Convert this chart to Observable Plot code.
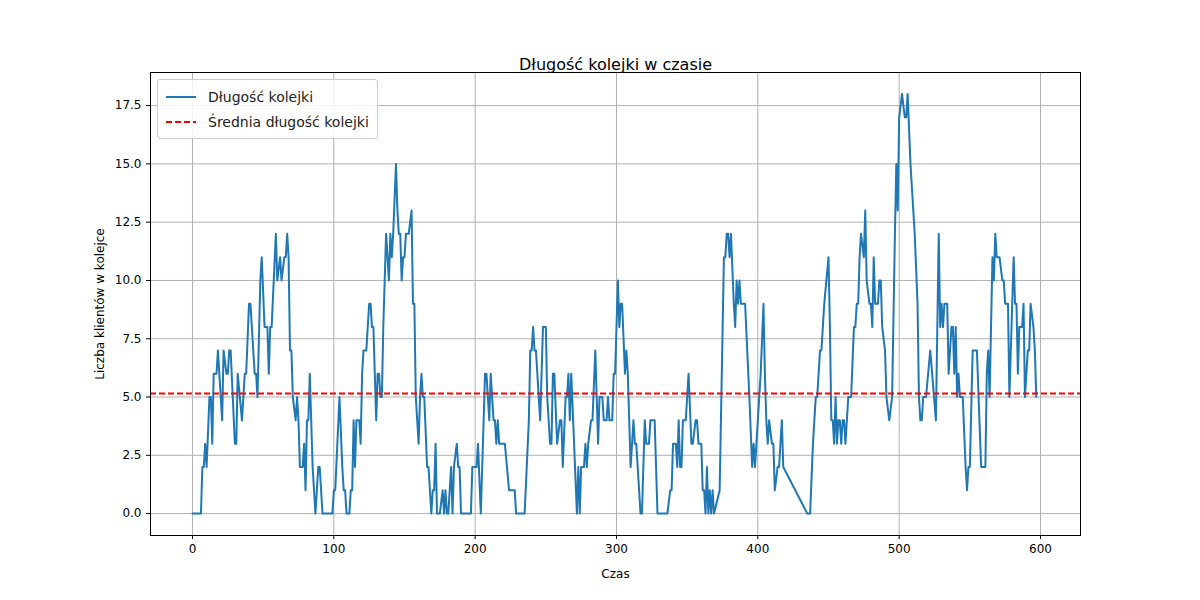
<!DOCTYPE html>
<html>
<head>
<meta charset="utf-8">
<script src="https://cdn.jsdelivr.net/npm/d3@7"></script>
<script src="https://cdn.jsdelivr.net/npm/@observablehq/plot@0.6"></script>
<style>
  body { margin: 0; background: #fff; font-family: "DejaVu Sans", sans-serif; }
  #wrap { position: relative; width: 1200px; height: 600px; }
  #legend { position: absolute; left: 157px; top: 79px; border: 1px solid #ccc; border-radius: 3px;
    background: rgba(255,255,255,0.85); padding: 4px 8px 4px 8px; font-size: 14px; color: #222; }
  .row { display: flex; align-items: center; height: 25px; }
  .sw { width: 30px; margin-right: 12px; }
</style>
</head>
<body>
<div id="wrap">
  <div id="chart"></div>
  <div id="legend">
    <div class="row"><svg class="sw" height="4"><line x1="0" x2="30" y1="2" y2="2" stroke="#1f77b4" stroke-width="2"/></svg>Długość kolejki</div>
    <div class="row"><svg class="sw" height="4"><line x1="0" x2="30" y1="2" y2="2" stroke="red" stroke-width="2" stroke-dasharray="6,3"/></svg>Średnia długość kolejki</div>
  </div>
</div>
<script>
const times = [0,6,7,8,9,10,12,13,14,15,17,18,21,22,24,25,26,27,30,31,32,35,37,38,40,41,44,45,46,48,49,51,53,54,55,56,59,60,62,63,65,66,67,68,69,70,71,73,74,75,76,78,79,80,81,82,83,85,87,89,90,92,99,100,101,104,106,107,108,109,111,112,113,114,115,116,118,119,120,121,123,125,126,127,128,130,131,132,133,134,135,137,139,140,141,142,144,145,146,147,148,149,150,151,153,155,156,157,158,160,161,162,163,164,166,167,169,170,171,172,173,175,177,178,179,180,181,183,184,185,187,188,189,190,197,198,201,202,204,207,208,210,211,213,214,215,216,217,221,224,228,229,235,238,239,240,241,242,243,246,248,250,251,253,254,255,256,258,260,261,262,264,265,266,267,268,272,273,274,275,277,278,279,280,282,283,285,287,288,290,291,293,294,295,297,298,299,301,302,303,304,306,307,308,310,312,313,314,317,318,320,321,323,324,327,329,336,338,339,340,342,343,344,345,346,347,349,351,353,354,356,357,358,360,361,362,363,364,365,366,367,368,369,373,376,377,378,379,380,381,383,384,385,386,387,388,391,394,396,397,398,400,402,404,405,406,407,408,410,411,412,414,415,417,418,435,437,439,441,442,444,445,447,450,451,452,453,454,455,456,457,458,459,460,461,462,464,466,468,469,470,471,472,473,475,476,477,479,480,481,482,483,485,486,487,488,490,491,493,495,497,498,499,500,502,504,505,506,508,511,513,514,515,516,517,519,522,526,528,529,530,531,532,534,535,537,538,539,540,541,542,543,545,547,548,549,550,552,555,558,561,562,563,564,565,566,567,568,569,571,573,574,575,577,578,581,582,583,584,585,587,588,589,590,591,592,593,595,596,597,599];
const values = [0,0,2,2,3,2,5,5,3,6,6,7,4,7,6,6,7,7,3,3,6,4,6,6,9,9,6,6,5,10,11,8,8,6,8,8,12,10,11,10,11,11,12,11,7,7,5,4,5,4,2,2,3,1,4,4,6,2,0,2,2,0,0,1,1,5,2,1,1,0,0,1,1,4,2,4,4,3,6,7,7,9,9,8,8,4,6,6,5,5,8,12,10,12,11,12,15,13,12,12,10,11,11,12,12,13,9,9,5,3,5,6,5,5,2,2,0,1,1,3,0,0,1,0,1,0,0,2,0,2,3,2,2,0,0,2,2,3,0,6,6,4,6,4,4,3,4,3,3,1,1,0,0,4,7,7,8,7,7,4,8,8,5,3,3,6,6,3,4,4,2,5,5,6,4,6,0,2,0,2,2,3,2,3,4,4,7,3,5,5,4,4,5,4,4,6,6,10,8,9,9,6,7,6,2,4,3,3,0,0,4,3,3,4,4,0,0,1,1,3,3,2,4,2,2,4,4,6,3,3,4,4,3,3,1,1,0,2,0,1,0,1,0,1,11,11,12,12,11,12,9,8,10,9,10,9,9,5,2,3,2,4,6,9,6,4,3,4,3,3,1,2,2,4,2,0,0,3,5,5,7,7,9,11,8,4,4,3,5,3,4,4,3,4,4,3,5,5,8,8,9,9,11,12,11,13,10,9,9,8,11,9,9,10,10,8,7,5,4,5,12,15,13,17,18,17,17,18,15,12,9,5,4,4,5,5,7,4,12,8,9,8,9,9,6,8,8,6,8,5,6,5,5,2,1,2,2,7,7,2,2,6,7,5,8,11,10,12,11,11,10,10,9,9,5,11,9,9,6,8,8,9,5,6,7,7,9,8,7,5];
const meanValue = 5.15;
const xTicks = [0, 100, 200, 300, 400, 500, 600];
const yTicks = [0, 2.5, 5, 7.5, 10, 12.5, 15, 17.5];

const series = times.map((t, i) => ({t, v: values[i]}));

const chart = Plot.plot({
  width: 1200,
  height: 600,
  marginLeft: 150,
  marginRight: 120,
  marginTop: 72,
  marginBottom: 65,
  x: {domain: [-29.7, 628.3], ticks: xTicks, label: "Czas", labelAnchor: "center", labelArrow: "none", labelOffset: 42},
  y: {domain: [-0.94, 18.92], ticks: yTicks, tickFormat: d => d.toFixed(1), label: "Liczba klientów w kolejce", labelAnchor: "center", labelArrow: "none", labelOffset: 55},
  style: {fontFamily: "DejaVu Sans", fontSize: "12px", color: "#000", background: "#fff"},
  marks: [
    Plot.gridX(xTicks, {stroke: "#b0b0b0", strokeOpacity: 1}),
    Plot.gridY(yTicks, {stroke: "#b0b0b0", strokeOpacity: 1}),
    Plot.axisX(xTicks, {tickSize: 4, fontSize: 12, label: "Czas", labelAnchor: "center", labelArrow: "none", labelOffset: 42}),
    Plot.axisY(yTicks, {tickSize: 4, fontSize: 12, tickFormat: d => d.toFixed(1), label: "Liczba klientów w kolejce", labelAnchor: "center", labelArrow: "none", labelOffset: 55}),
    Plot.lineY(series, {x: "t", y: "v", stroke: "#1f77b4", strokeWidth: 2}),
    Plot.ruleY([meanValue], {stroke: "red", strokeWidth: 1.8, strokeDasharray: "6,3"}),
    Plot.frame({stroke: "#000"}),
    Plot.text(["Długość kolejki w czasie"], {frameAnchor: "top", dy: -14, fontSize: 16, fill: "#000"})
  ]
});
d3.select("#chart").append(() => chart);
</script>
</body>
</html>
